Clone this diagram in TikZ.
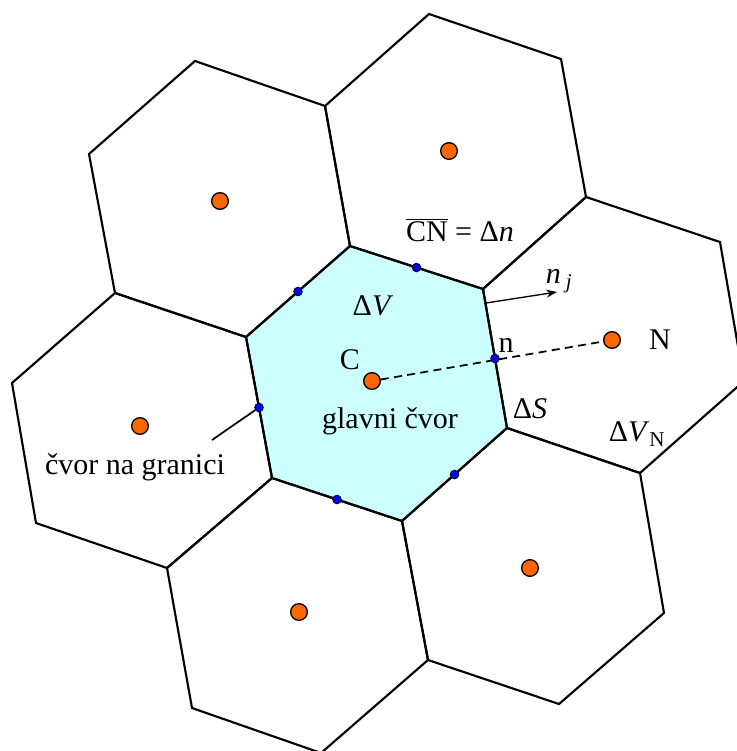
\documentclass[tikz,border=0pt]{standalone}
\usepackage{fontspec}
\setmainfont{Liberation Serif}
\usetikzlibrary{calc,arrows.meta}

\definecolor{cellcyan}{RGB}{204,255,255}
\definecolor{nodeorange}{RGB}{255,102,0}

\begin{document}
\begin{tikzpicture}[x=0.75pt,y=0.75pt,yscale=-1,xscale=1,
  cell/.style={line width=1.6pt, line join=miter},
  cnode/.style={circle, draw=black, line width=1pt, fill=nodeorange, inner sep=0pt, minimum size=12.5pt},
  bnode/.style={circle, draw=black, line width=0.6pt, fill=blue, inner sep=0pt, minimum size=6.5pt},
  lbl/.style={inner sep=0pt, font=\fontsize{22.5}{26}\selectfont}]
\useasboundingbox (0,0) rectangle (737,751);
\clip (0,0) rectangle (737,751);

%Central cell corners
\coordinate (v1) at (350,246);
\coordinate (v2) at (483,289);
\coordinate (v3) at (507,428);
\coordinate (v4) at (402,521);
\coordinate (v5) at (272,478);
\coordinate (v6) at (246,337);

%Shape: Polygon [central cell]
\fill [cellcyan] (v1) -- (v2) -- (v3) -- (v4) -- (v5) -- (v6) -- cycle ;
%Shape: Polygon [top]
\draw [cell] (429,14) -- (561,59) -- (586,197) -- (483,289) -- (350,246) -- (325,106) -- cycle ;
%Shape: Polygon [top left]
\draw [cell] (195,61) -- (325,106) -- (350,246) -- (246,337) -- (115,293) -- (89,154) -- cycle ;
%Shape: Polygon [right]
\draw [cell] (586,197) -- (720,242) -- (744,381) -- (640,473) -- (507,428) -- (483,289) -- cycle ;
%Shape: Polygon [bottom right]
\draw [cell] (507,428) -- (640,473) -- (664,613) -- (559,704) -- (428,660) -- (402,521) -- cycle ;
%Shape: Polygon [bottom]
\draw [cell] (272,478) -- (402,521) -- (428,660) -- (321,753) -- (192,708) -- (167,568) -- cycle ;
%Shape: Polygon [left]
\draw [cell] (115,293) -- (246,337) -- (272,478) -- (167,568) -- (36,523) -- (12,383) -- cycle ;
%Shape: Polygon [central outline]
\draw [cell] (v1) -- (v2) -- (v3) -- (v4) -- (v5) -- (v6) -- cycle ;

%Cell centres
\node [cnode] (C) at (372,381) {};
\node [cnode] (N) at (612,340) {};
\node [cnode] (cT) at (449,151) {};
\node [cnode] (cTL) at (220,201) {};
\node [cnode] (cL) at (140,426) {};
\node [cnode] (cB) at (299,612) {};
\node [cnode] (cBR) at (530,568) {};

%Straight Lines [C to N]
\draw [line width=1.3pt, dash pattern={on 6pt off 4pt}] (C) -- (N) ;

%Boundary nodes
\node [bnode] (m1) at ($(v6)!0.5!(v1)$) {};
\node [bnode] (m2) at ($(v1)!0.5!(v2)$) {};
\node [bnode] (m3) at ($(v2)!0.5!(v3)$) {};
\node [bnode] (m4) at ($(v3)!0.5!(v4)$) {};
\node [bnode] (m5) at ($(v4)!0.5!(v5)$) {};
\node [bnode] (m6) at ($(v5)!0.5!(v6)$) {};

%Straight Lines [normal]
\coordinate (nj0) at (486,303);
\coordinate (nj1) at (557,292);
\draw [line width=1pt, -{Stealth[length=8pt,width=6pt]}] (nj0) -- (nj1) ;
%Straight Lines [leader]
\coordinate (lead) at (212,440);
\draw [line width=1.3pt] (lead) -- (m6) ;

% Text Node
\node [lbl] (cnlbl) at (460,230) {\(\overline{\mbox{CN}}\) = Δ\textit{n}};
% Text Node
\node [lbl] (njlbl) at (559,281) {\textit{n}\,\textsubscript{\textit{j}}};
% Text Node
\node [lbl] (dvlbl) at (373,306) {Δ\textit{V}};
% Text Node
\node [lbl] (clbl) at (350,360) {C};
% Text Node
\node [lbl] (nlbl) at (506,345) {n};
% Text Node
\node [lbl] (Nlbl) at (660,340) {N};
% Text Node
\node [lbl] (glbl) at (390,421) {glavni čvor};
% Text Node
\node [lbl] (dslbl) at (530,409) {Δ\textit{S}};
% Text Node
\node [lbl] (dvnlbl) at (637,434) {Δ\textit{V}\textsubscript{N}};
% Text Node
\node [lbl] (bndlbl) at (135,467) {čvor na granici};

\end{tikzpicture}
\end{document}
